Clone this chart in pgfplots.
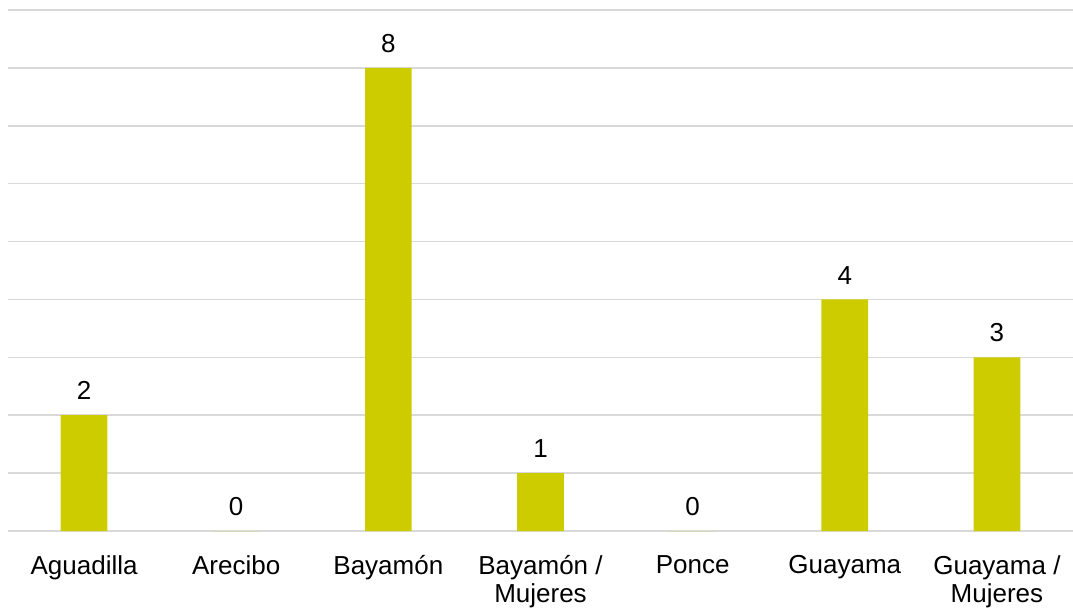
\documentclass[border=0pt]{standalone}
\usepackage{pgfplots}
\pgfplotsset{compat=1.18}
\usepackage{fontspec}
\setmainfont{Liberation Sans}
\definecolor{barc}{HTML}{CCCC00}
\definecolor{gridc}{HTML}{D9D9D9}
\begin{document}
\begin{tikzpicture}
\useasboundingbox (-6pt,-61.5pt) rectangle (798.75pt,398.25pt);
\begin{axis}[
  scale only axis,
  width=798.75pt, height=390.75pt,
  xmin=-0.5, xmax=6.5,
  ymin=0, ymax=9,
  axis line style={draw=none},
  ytick={0,1,...,9},
  yticklabels={},
  ymajorgrids,
  grid style={gridc, line width=1.1pt},
  major tick length=0pt,
  /pgf/number format/assume math mode=true,
  xtick={0,1,2,3,4,5,6},
  xticklabels={Aguadilla,Arecibo,Bayamón,Bayamón /\\Mujeres,Ponce,Guayama,Guayama /\\Mujeres},
  xticklabel style={align=center, font=\fontsize{19.5}{21}\selectfont, yshift=-15pt},
  ybar, bar width=35pt,
  nodes near coords,
  nodes near coords style={font=\fontsize{19.5}{20}\selectfont, black, yshift=8pt},
  clip=false,
]
\addplot[fill=barc, draw=none] coordinates {(0,2) (1,0) (2,8) (3,1) (4,0) (5,4) (6,3)};
\end{axis}
\end{tikzpicture}
\end{document}
